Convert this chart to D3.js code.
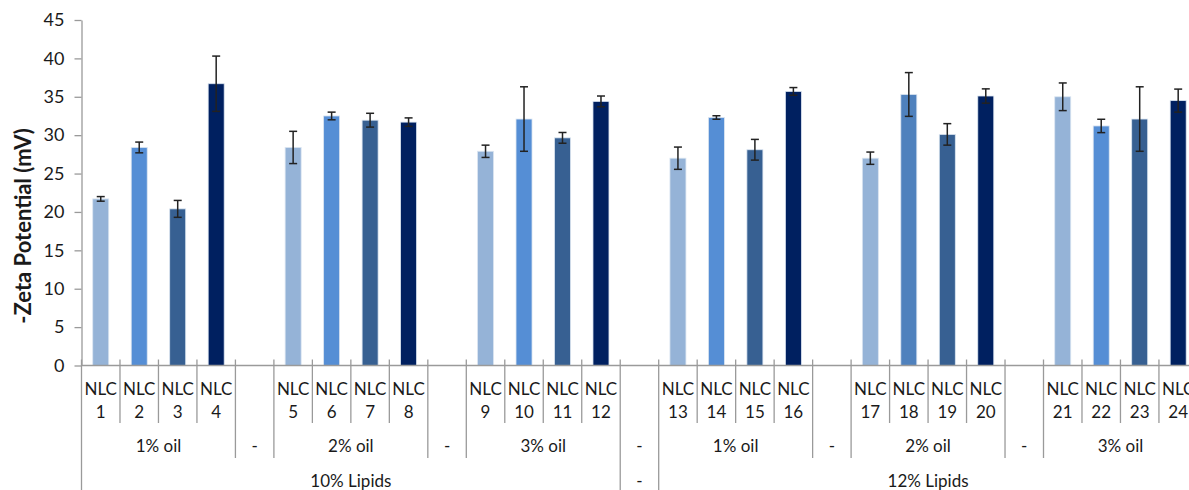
<!DOCTYPE html>
<html>
<head>
<meta charset="utf-8">
<script src="https://cdn.jsdelivr.net/npm/d3@7"></script>
<style>
  html, body { margin: 0; padding: 0; background: #ffffff; }
  svg { display: block; }
  text { font-family: Lato, "Open Sans", sans-serif; fill: #1a1a1a; }
</style>
</head>
<body>
<svg id="chart" width="1189" height="490"></svg>
<script>
// Formulation labels (number under "NLC"), four per oil level
const formulations = ["1","2","3","4","5","6","7","8","9","10","11","12",
                      "13","14","15","16","17","18","19","20","21","22","23","24"];
const oilLevels = ["1% oil", "2% oil", "3% oil"];
const lipidLevels = ["10% Lipids", "12% Lipids"];

// Negative zeta potential (mV) and standard deviation
const zeta = [21.7, 28.4, 20.4, 36.7, 28.4, 32.5, 31.95, 31.7,
              27.9, 32.1, 29.65, 34.4, 27.0, 32.3, 28.1, 35.7,
              27.0, 35.3, 30.1, 35.1, 35.0, 31.2, 32.1, 34.5];
const zetaSD = [0.3, 0.7, 1.1, 3.6, 2.1, 0.5, 0.9, 0.55,
                0.8, 4.2, 0.7, 0.7, 1.45, 0.23, 1.35, 0.5,
                0.8, 2.85, 1.4, 0.93, 1.8, 0.87, 4.2, 1.5];
const yTicks = [0, 5, 10, 15, 20, 25, 30, 35, 40, 45];

// Colour by position within the oil group
const palette = ["#95b3d7", "#558ed5", "#376092", "#002060"];
const colourOverride = { 17: "#4f81bd" };

const svg = d3.select("#chart");
const x0 = 81.5, y0 = 365.5;

// Build the category slots: bars plus the "-" spacer slots
const slots = [];
lipidLevels.forEach((lip, li) => {
  oilLevels.forEach((oil, oi) => {
    for (let k = 0; k < 4; k++) {
      const i = li * 12 + oi * 4 + k;
      slots.push({ key: "b" + i, type: "bar", i, oil: oi, lip: li });
    }
    const last = (li === lipidLevels.length - 1 && oi === oilLevels.length - 1);
    if (!last) {
      slots.push({ key: "g" + li + "_" + oi, type: "gap",
                   level: oi === oilLevels.length - 1 ? 3 : 2 });
    }
  });
});

const slotW = 38.48;
const x = d3.scaleBand()
  .domain(slots.map(s => s.key))
  .range([x0, x0 + slots.length * slotW])
  .paddingInner(0).paddingOuter(0);

const y = d3.scaleLinear().domain([0, 45]).range([y0, 20]);

const axisColour = "#9a9a9a";

// Y axis
const yAxis = svg.append("g")
  .attr("transform", `translate(${x0},0)`)
  .call(d3.axisLeft(y).tickValues(yTicks).tickSize(7).tickSizeOuter(0).tickPadding(10));
yAxis.select(".domain").attr("stroke", axisColour).attr("stroke-width", 1.3);
yAxis.selectAll(".tick line").attr("stroke", axisColour).attr("stroke-width", 1.3);
yAxis.selectAll(".tick text")
  .style("font-family", "Lato, 'Open Sans', sans-serif")
  .style("font-size", "18px").attr("fill", "#1a1a1a");

// Y axis title
svg.append("text")
  .attr("transform", `translate(31,226) rotate(-90)`)
  .attr("text-anchor", "middle")
  .style("font-size", "22px").style("font-weight", "bold")
  .text("-Zeta Potential (mV)");

// Bars
const barW = 16;
const barSlots = slots.filter(s => s.type === "bar");
svg.append("g").selectAll("rect")
  .data(barSlots)
  .join("rect")
  .attr("x", s => x(s.key) + x.bandwidth() / 2 - barW / 2)
  .attr("y", s => y(zeta[s.i]))
  .attr("width", barW)
  .attr("height", s => y(0) - y(zeta[s.i]))
  .attr("fill", s => colourOverride[s.i] || palette[s.i % 4])
  .attr("stroke", "#dbe5f1").attr("stroke-width", 0.8);

// Error bars
const err = svg.append("g").attr("stroke", "#222").attr("stroke-width", 1.5);
barSlots.forEach(s => {
  const cx = x(s.key) + x.bandwidth() / 2;
  const hi = y(zeta[s.i] + zetaSD[s.i]), lo = y(zeta[s.i] - zetaSD[s.i]);
  err.append("line").attr("x1", cx).attr("x2", cx).attr("y1", hi).attr("y2", lo);
  err.append("line").attr("x1", cx - 4).attr("x2", cx + 4).attr("y1", hi).attr("y2", hi);
  err.append("line").attr("x1", cx - 4).attr("x2", cx + 4).attr("y1", lo).attr("y2", lo);
});

// X axis line
svg.append("line")
  .attr("x1", x0).attr("x2", x0 + slots.length * slotW)
  .attr("y1", y0).attr("y2", y0)
  .attr("stroke", axisColour).attr("stroke-width", 1.3);

// Category separators: short for formulations, longer for oil groups, full for lipid groups
const sep = svg.append("g").attr("stroke", axisColour).attr("stroke-width", 1.3);
const yEnd1 = 423, yEnd2 = 458, yEnd3 = 490;
const boundaryDepth = new Array(slots.length + 1).fill(yEnd1);
boundaryDepth[0] = yEnd3;
slots.forEach((s, j) => {
  if (s.type === "gap") {
    const d = s.level === 3 ? yEnd3 : yEnd2;
    boundaryDepth[j] = Math.max(boundaryDepth[j], d);
    boundaryDepth[j + 1] = Math.max(boundaryDepth[j + 1], d);
  }
});
boundaryDepth.forEach((d, j) => {
  const bx = x0 + j * slotW;
  sep.append("line").attr("x1", bx).attr("x2", bx).attr("y1", y0 - 6).attr("y2", d);
});

// Formulation labels
const lab = svg.append("g").style("font-size", "17px").attr("text-anchor", "middle");
barSlots.forEach(s => {
  const cx = x(s.key) + x.bandwidth() / 2;
  lab.append("text").attr("x", cx).attr("y", 395).text("NLC");
  lab.append("text").attr("x", cx).attr("y", 418).text(formulations[s.i]);
});

// Oil level and spacer labels
for (let li = 0; li < lipidLevels.length; li++) {
  for (let oi = 0; oi < oilLevels.length; oi++) {
    const first = slots.find(s => s.type === "bar" && s.i === li * 12 + oi * 4);
    const lastS = slots.find(s => s.type === "bar" && s.i === li * 12 + oi * 4 + 3);
    const cx = (x(first.key) + x(lastS.key) + x.bandwidth()) / 2;
    lab.append("text").attr("x", cx).attr("y", 452).text(oilLevels[oi]);
  }
}
slots.filter(s => s.type === "gap").forEach(s => {
  const cx = x(s.key) + x.bandwidth() / 2;
  lab.append("text").attr("x", cx).attr("y", 452).text("-");
  if (s.level === 3) lab.append("text").attr("x", cx).attr("y", 487).text("-");
});

// Lipid level labels
lipidLevels.forEach((lip, li) => {
  const first = slots.find(s => s.type === "bar" && s.i === li * 12);
  const lastS = slots.find(s => s.type === "bar" && s.i === li * 12 + 11);
  const cx = (x(first.key) + x(lastS.key) + x.bandwidth()) / 2;
  lab.append("text").attr("x", cx).attr("y", 487).text(lip);
});
</script>
</body>
</html>
